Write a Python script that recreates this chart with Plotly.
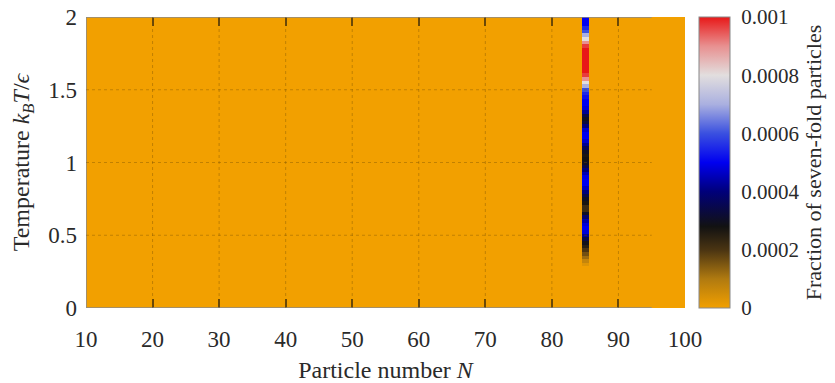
import numpy as np
import plotly.graph_objects as go

# ---- data ----
particle_numbers = list(range(10, 101))
temperatures = [round(0.025 * i, 3) for i in range(81)]
peak_N = 85
# fraction of seven-fold particles at N = 85, T = 0 ... 2 (step 0.025)
peak_values = [0] * 12 + [
    0.00003, 0.00007, 0.00012, 0.00016, 0.00020, 0.00025, 0.00029, 0.00034,   # 0.300-0.475
    0.00042, 0.00048, 0.00050, 0.00048, 0.00044, 0.00038, 0.00030, 0.00022,   # 0.500-0.675
    0.00022, 0.00027, 0.00030, 0.00034, 0.00040, 0.00046, 0.00050, 0.00050,   # 0.700-0.875
    0.00049, 0.00045, 0.00040, 0.00034, 0.00030, 0.00028, 0.00027, 0.00030,   # 0.900-1.075
    0.00036, 0.00042, 0.00047, 0.00050, 0.00050, 0.00047, 0.00040, 0.00033,   # 1.100-1.275
    0.00030, 0.00034, 0.00042, 0.00048, 0.00050, 0.00050, 0.00052, 0.00055,   # 1.300-1.475
    0.00060, 0.00070, 0.00080, 0.00090, 0.00097, 0.00100, 0.00100, 0.00100,   # 1.500-1.675
    0.00100, 0.00100, 0.00100, 0.00100, 0.00097, 0.00090, 0.00080, 0.00070,   # 1.700-1.875
    0.00060, 0.00055, 0.00050, 0.00050, 0.00050,                              # 1.900-2.000
]
x_ticks = [10, 20, 30, 40, 50, 60, 70, 80, 90, 100]
y_ticks = [0, 0.5, 1, 1.5, 2]
y_labels = ["0", "0.5", "1", "1.5", "2"]
cb_ticks = [0, 0.0002, 0.0004, 0.0006, 0.0008, 0.001]
cb_labels = ["0", "0.0002", "0.0004", "0.0006", "0.0008", "0.001"]

z = np.zeros((len(temperatures), len(particle_numbers)))
z[:, particle_numbers.index(peak_N)] = peak_values

colorscale = [
    [0.0, "#f2a000"],
    [0.1, "#b07a10"],
    [0.2, "#4a3412"],
    [0.28, "#121212"],
    [0.4, "#00007a"],
    [0.5, "#0000f0"],
    [0.6, "#3a50e0"],
    [0.7, "#aab0e0"],
    [0.8, "#e2dede"],
    [0.9, "#e89090"],
    [1.0, "#e81818"],
]

tick_font = dict(family="Liberation Serif", size=23, color="#2a2a2a")
title_font = dict(family="Liberation Serif", size=24, color="#2a2a2a")
cb_tick_font = dict(family="Liberation Serif", size=21, color="#2a2a2a")
cb_title_font = dict(family="Liberation Serif", size=22, color="#2a2a2a")

W, H = 827, 375          # page body adds an 8px margin
L, R, T, B = 78, 150, 9, 75
plot_w = W - L - R
cb_x0 = 1.0234
cb_thick = 31

fig = go.Figure()
fig.add_trace(go.Heatmap(
    x=particle_numbers, y=temperatures, z=z,
    zmin=0, zmax=0.001, zsmooth=False,
    colorscale=colorscale,
    colorbar=dict(
        x=cb_x0, xanchor="left", xpad=0, y=0.5, yanchor="middle", ypad=0,
        len=1.0, thickness=cb_thick,
        outlinecolor="#888888", outlinewidth=1,
        tickvals=cb_ticks, ticktext=cb_labels,
        ticks="outside", ticklen=7, tickcolor="rgba(0,0,0,0)",
        tickfont=cb_tick_font, ticklabeloverflow="allow",
        title=dict(text="Fraction of seven-fold particles", side="right", font=cb_title_font),
    ),
))

# frame (axes end at N=95)
frame_color = "#8a8a8a"
for (x0, y0, x1, y1) in [(10, 0, 95, 0), (10, 2, 95, 2), (10, 0, 10, 2)]:
    fig.add_shape(type="line", x0=x0, y0=y0, x1=x1, y1=y1, xref="x", yref="y",
                  line=dict(color=frame_color, width=1.5), layer="above")
# dotted grid
grid_line = dict(color="rgba(120,80,0,0.4)", width=1, dash="dot")
for xv in x_ticks[1:-1]:
    fig.add_shape(type="line", x0=xv, x1=xv, y0=0, y1=2, xref="x", yref="y",
                  line=grid_line, layer="above")
for yv in y_ticks[1:-1]:
    fig.add_shape(type="line", x0=10, x1=95, y0=yv, y1=yv, xref="x", yref="y",
                  line=grid_line, layer="above")
# small inner tick marks on the colour bar (both edges)
cb_x1 = cb_x0 + cb_thick / plot_w
tl = 5 / plot_w
for tv in cb_ticks[1:-1]:
    yy = tv / 0.001
    for (a, b) in [(cb_x0, cb_x0 + tl), (cb_x1 - tl, cb_x1)]:
        fig.add_shape(type="line", x0=a, x1=b, y0=yy, y1=yy, xref="paper", yref="paper",
                      line=dict(color="rgba(60,60,60,0.6)", width=1), layer="above")

fig.update_layout(
    width=W, height=H,
    margin=dict(l=L, r=R, t=T, b=B, autoexpand=False),
    paper_bgcolor="white", plot_bgcolor="white",
    font=tick_font,
    xaxis=dict(range=[10, 100], tickvals=x_ticks, showgrid=False, zeroline=False,
               showline=False, ticks="inside", ticklen=9, tickcolor="rgba(70,50,10,0.8)",
               tickwidth=1.5, mirror="ticks", ticklabelstandoff=15, tickfont=tick_font,
               ticklabeloverflow="allow",
               title=dict(text="Particle number <i>N</i>", font=title_font, standoff=10),
               layer="above traces"),
    yaxis=dict(range=[0, 2], tickvals=y_ticks, ticktext=y_labels,
               showgrid=False, zeroline=False, showline=False,
               ticks="", ticklabelstandoff=8, tickfont=tick_font,
               ticklabeloverflow="allow",
               title=dict(text="Temperature <i>k</i><sub><i>B</i></sub><i>T</i>/<i>ϵ</i>",
                          font=title_font, standoff=14),
               layer="above traces"),
)

fig.write_html("out.html")
